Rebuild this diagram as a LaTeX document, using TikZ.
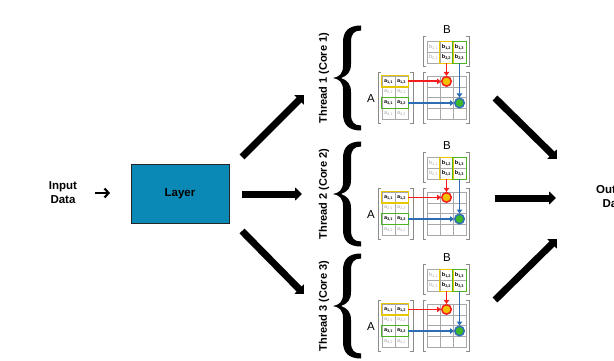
\documentclass[tikz,border=0pt]{standalone}
\usepackage{fontspec}
\setmainfont{Liberation Sans}
\usetikzlibrary{arrows.meta}

\definecolor{layerblue}{HTML}{0A89B6}
\definecolor{hlyellow}{HTML}{E6C700}
\definecolor{hlgreen}{HTML}{4DB320}
\definecolor{rowred}{HTML}{F41E1E}
\definecolor{colblue}{HTML}{2C6DB5}
\definecolor{dotyellow}{HTML}{F2C200}
\definecolor{dotgreen}{HTML}{3DB82A}
\definecolor{gridgray}{HTML}{A8A8A8}
\definecolor{brackgray}{HTML}{8A8A8A}
\definecolor{dimtext}{HTML}{A8A8A8}

\begin{document}
\begin{tikzpicture}[x=1pt,y=-1pt,
  bigarrow/.style={line width=7pt,-{Triangle[length=7pt,width=13pt]}},
  titletext/.style={font=\bfseries\fontsize{11.5}{14}\selectfont,align=center,inner sep=0pt},
  threadtext/.style={font=\bfseries\fontsize{11}{13}\selectfont,rotate=90,inner sep=0pt},
  layerbox/.style={draw=black!85,line width=1pt,fill=layerblue,minimum width=98pt,
    minimum height=59pt,font=\bfseries\fontsize{11.5}{14}\selectfont},
  cellbox/.style={draw=gridgray,line width=0.5pt,minimum width=13pt,minimum height=10.8pt,
    inner sep=0pt,font={\fontsize{5.5}{6}\selectfont\ifnum#1=1 \bfseries\color{black}\else\color{dimtext}\fi}},
  brk/.style={draw=brackgray,line width=0.8pt},
  hlrow/.style={draw=#1,line width=1.3pt},
  flow/.style={draw=#1,line width=1.8pt,-{Triangle[length=4pt,width=5.5pt]}},
  dot/.style={circle,minimum size=9.5pt,inner sep=0pt,line width=1.5pt},
  braceshape/.style={fill=black,draw=none},
  matlabel/.style={font=\fontsize{11.5}{13}\selectfont,inner sep=0pt}]

\useasboundingbox (0,0) rectangle (614,361);

% input, layer, output
\node[titletext] (input) at (63,193) {Input\\Data};
\coordinate (ina) at (95,193);
\coordinate (inb) at (110,193);
\draw[line width=2.2pt,-{Straight Barb[length=4pt,width=9pt]}] (ina) -- (inb);
\node[layerbox] (layer) at (180,193.5) {Layer};
\node[titletext] (output) at (615,197) {Output\\Data};

% fan-out arrows
\coordinate (o1s) at (242,157); \coordinate (o1e) at (304,95);
\coordinate (o2s) at (242,194); \coordinate (o2e) at (302,194);
\coordinate (o3s) at (242,231); \coordinate (o3e) at (304,294);
\draw[bigarrow] (o1s) -- (o1e);
\draw[bigarrow] (o2s) -- (o2e);
\draw[bigarrow] (o3s) -- (o3e);

% fan-in arrows
\coordinate (i1s) at (495,98);  \coordinate (i1e) at (557,159);
\coordinate (i2s) at (495,198); \coordinate (i2e) at (556,198);
\coordinate (i3s) at (495,300); \coordinate (i3e) at (557,239);
\draw[bigarrow] (i1s) -- (i1e);
\draw[bigarrow] (i2s) -- (i2e);
\draw[bigarrow] (i3s) -- (i3e);

% one matrix-multiplication block per thread
\foreach \g/\dy in {1/0,2/116,3/228}{
\begin{scope}[shift={(0,\dy)}]
  \node[threadtext] (t\g) at (324,78) {Thread \g{} (Core \g)};

  % heavy curly brace, thick stem and pointed tip
  \fill[braceshape] (361,25.5) .. controls (349,25.5) and (343,31) .. (343,42)
    -- (343,66) .. controls (343,74) and (339,77) .. (333,78)
    .. controls (339,79) and (343,82) .. (343,90)
    -- (343,114) .. controls (343,125) and (349,130.5) .. (361,130.5)
    -- (361,125.5) .. controls (354,125.5) and (351,122) .. (351,114)
    -- (351,92) .. controls (351,84) and (347,80) .. (341,78)
    .. controls (347,76) and (351,72) .. (351,64)
    -- (351,42) .. controls (351,34) and (354,30.5) .. (361,30.5) -- cycle;

  % matrix A (4 x 2)
  \foreach \r/\yy/\hot in {1/81.4/1,2/92.2/0,3/103/1,4/113.8/0}{
    \foreach \c/\xx in {1/388.5,2/401.5}{
      \node[cellbox=\hot] (a\g-\r-\c) at (\xx,\yy) {a\textsubscript{\r,\c}};
    }
  }
  % matrix B (2 x 3)
  \foreach \c/\xx/\hot in {1/433.5/0,2/446.5/1,3/459.5/1}{
    \foreach \r/\yy in {1/46.9,2/57.7}{
      \node[cellbox=\hot] (b\g-\r-\c) at (\xx,\yy) {b\textsubscript{\r,\c}};
    }
  }
  % result matrix C (4 x 3)
  \foreach \r/\yy in {1/81.4,2/92.2,3/103,4/113.8}{
    \foreach \c/\xx in {1/433.5,2/446.5,3/459.5}{
      \node[cellbox=0] (c\g-\r-\c) at (\xx,\yy) {};
    }
  }

  % brackets
  \draw[brk] (381,72) -- (378,72) -- (378,123) -- (381,123);
  \draw[brk] (410,72) -- (413,72) -- (413,123) -- (410,123);
  \draw[brk] (426,72) -- (423,72) -- (423,123) -- (426,123);
  \draw[brk] (466,72) -- (469,72) -- (469,123) -- (466,123);
  \draw[brk] (426,36) -- (423,36) -- (423,66) -- (426,66);
  \draw[brk] (466,36) -- (469,36) -- (469,66) -- (466,66);

  \node[matlabel] (la\g) at (371,99) {A};
  \node[matlabel] (lb\g) at (447,30) {B};

  % highlighted row / column pairs
  \draw[hlrow=hlyellow] (a\g-1-1.north west) rectangle (a\g-1-2.south east);
  \draw[hlrow=hlyellow] (b\g-1-2.north west) rectangle (b\g-2-2.south east);
  \draw[hlrow=hlgreen] (a\g-3-1.north west) rectangle (a\g-3-2.south east);
  \draw[hlrow=hlgreen] (b\g-1-3.north west) rectangle (b\g-2-3.south east);

  % result entries
  \node[dot,draw=rowred,fill=dotyellow] (r\g) at (c\g-1-2) {};
  \node[dot,draw=colblue,fill=dotgreen] (s\g) at (c\g-3-3) {};

  \draw[flow=rowred] (a\g-1-2.east) -- (r\g.west);
  \draw[flow=rowred] (b\g-2-2.south) -- (r\g.north);
  \draw[flow=colblue] (a\g-3-2.east) -- (s\g.west);
  \draw[flow=colblue] (b\g-2-3.south) -- (s\g.north);
\end{scope}
}
\end{tikzpicture}
\end{document}
